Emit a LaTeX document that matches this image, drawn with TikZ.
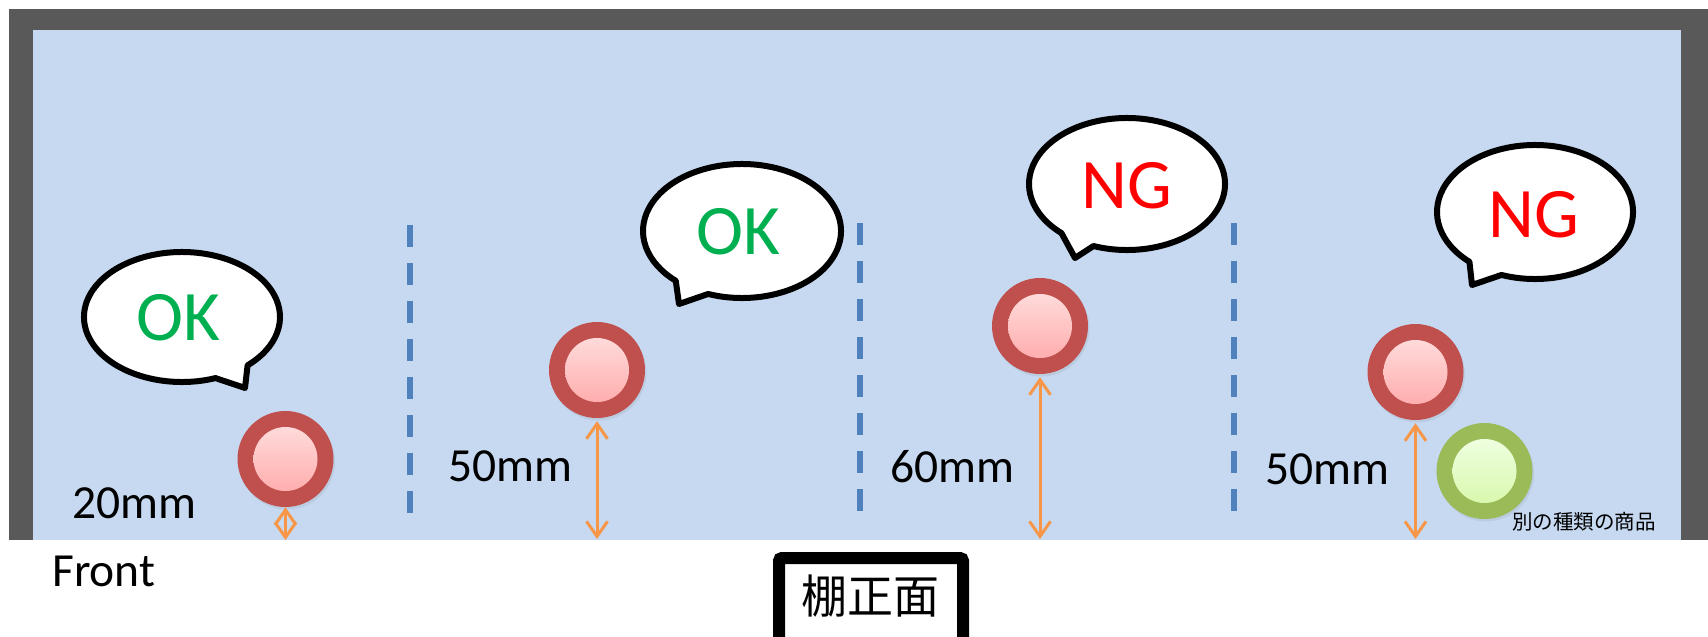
\documentclass[tikz,border=0pt]{standalone}
\usepackage{fontspec}
\setmainfont{Carlito}
\newfontfamily\jpfont{Noto Sans CJK JP}
\usetikzlibrary{arrows.meta,shadows}
\definecolor{framegray}{HTML}{595959}
\definecolor{shelfblue}{HTML}{C6D9F1}
\definecolor{dashblue}{HTML}{4F81BD}
\definecolor{arrorange}{HTML}{F79646}
\definecolor{ringred}{HTML}{C0504D}
\definecolor{ringgreen}{HTML}{9BBB59}
\definecolor{pinktop}{HTML}{FFDADA}
\definecolor{pinkbot}{HTML}{FFAEAE}
\definecolor{greentop}{HTML}{EEFFDF}
\definecolor{greenbot}{HTML}{DAF8AE}
\definecolor{okgreen}{HTML}{00B050}
\definecolor{ngred}{HTML}{FF0000}
\begin{document}
\begin{tikzpicture}[x=1pt,y=-1pt,
  softshadow/.style={drop shadow={opacity=0.15,shadow xshift=1.5pt,shadow yshift=-2.5pt}},
  redring/.style={circle,inner sep=0pt,minimum size=96pt,fill=ringred,softshadow},
  greenring/.style={circle,inner sep=0pt,minimum size=96pt,fill=ringgreen,softshadow},
  redcore/.style={circle,inner sep=0pt,minimum size=64pt,top color=pinktop,bottom color=pinkbot},
  greencore/.style={circle,inner sep=0pt,minimum size=64pt,top color=greentop,bottom color=greenbot},
  bubble/.style={draw=black,fill=white,line width=6pt,line join=round,softshadow},
  verdict/.style={inner sep=0pt,font=\fontsize{71}{82}\selectfont},
  measure/.style={inner sep=0pt,anchor=base west,font=\fontsize{47.5}{56}\selectfont},
  divider/.style={draw=dashblue,line width=6pt,dash pattern=on 22pt off 16pt},
  gap/.style={draw=arrorange,line width=3pt,{Straight Barb[length=15pt,width=21pt]}-{Straight Barb[length=15pt,width=21pt]}}
]
\useasboundingbox (0,0) rectangle (1708,637);
\clip (0,0) rectangle (1708,637);
% shelf frame
\fill[framegray] (9,9) rectangle (1708,540);
\fill[shelfblue] (33,30) rectangle (1681,540);

% dividers
\coordinate (d1t) at (409.5,225); \coordinate (d1b) at (409.5,513);
\coordinate (d2t) at (859.5,223); \coordinate (d2b) at (859.5,511);
\coordinate (d3t) at (1234,223);  \coordinate (d3b) at (1234,511);
\draw[divider] (d1t) -- (d1b);
\draw[divider] (d2t) -- (d2b);
\draw[divider] (d3t) -- (d3b);

% speech bubbles
\coordinate (b1) at (182,317);
\coordinate (b2) at (742,231);
\coordinate (b3) at (1127,184);
\coordinate (b4) at (1535,212);
\draw[bubble] ([shift={(48:98 and 65)}]b1) -- ([shift={(63,71)}]b1) -- ([shift={(70:98 and 65)}]b1)
  arc[start angle=70,end angle=408,x radius=98,y radius=65] -- cycle;
\draw[bubble] ([shift={(132:99 and 67)}]b2) -- ([shift={(-63,73)}]b2) -- ([shift={(110:99 and 67)}]b2)
  arc[start angle=110,end angle=-228,x radius=99,y radius=67] -- cycle;
\draw[bubble] ([shift={(132:98 and 66)}]b3) -- ([shift={(-52,74)}]b3) -- ([shift={(110:98 and 66)}]b3)
  arc[start angle=110,end angle=-228,x radius=98,y radius=66] -- cycle;
\draw[bubble] ([shift={(132:98 and 67)}]b4) -- ([shift={(-63,73)}]b4) -- ([shift={(110:98 and 67)}]b4)
  arc[start angle=110,end angle=-228,x radius=98,y radius=67] -- cycle;
\node[verdict,text=okgreen] (t1) at (178,318) {OK};
\node[verdict,text=okgreen] (t2) at (738,232) {OK};
\node[verdict,text=ngred] (t3) at (1127,186) {NG};
\node[verdict,text=ngred] (t4) at (1534,215) {NG};

% products
\node[redring] (c1) at (285.5,459) {};
\node[redcore] at (c1) {};
\node[redring] (c2) at (597,370) {};
\node[redcore] at (c2) {};
\node[redring] (c3) at (1040,326) {};
\node[redcore] at (c3) {};
\node[redring] (c4) at (1415.5,372) {};
\node[redcore] at (c4) {};
\node[greenring] (g4) at (1484.5,471) {};
\node[greencore] at (g4) {};

% gaps to the shelf front
\coordinate (f1) at (285.5,540);
\coordinate (f2) at (597,539);
\coordinate (f3) at (1040,539);
\coordinate (f4) at (1415.5,539);
\draw[gap] (c1.south) -- (f1);
\draw[gap] ([yshift=-3pt]c2.south) -- (f2);
\draw[gap] ([yshift=-3pt]c3.south) -- (f3);
\draw[gap] ([yshift=-3pt]c4.south) -- (f4);

% labels
\node[measure] (m1) at (72,518) {20mm};
\node[measure] (m2) at (448,481) {50mm};
\node[measure] (m3) at (890,482) {60mm};
\node[measure] (m4) at (1265,484) {50mm};
\node[measure] (front) at (52,586) {Front};
\node[inner sep=0pt,font=\jpfont\fontsize{20.5}{24}\selectfont] (other) at (1584,522) {別の種類の商品};

% shelf-front label box
\draw[line width=12pt,rounded corners=3pt] (779,558) rectangle (963,660);
\node[inner sep=0pt,font=\jpfont\fontsize{46}{55}\selectfont] (shelffront) at (870,596) {棚正面};
\end{tikzpicture}
\end{document}
